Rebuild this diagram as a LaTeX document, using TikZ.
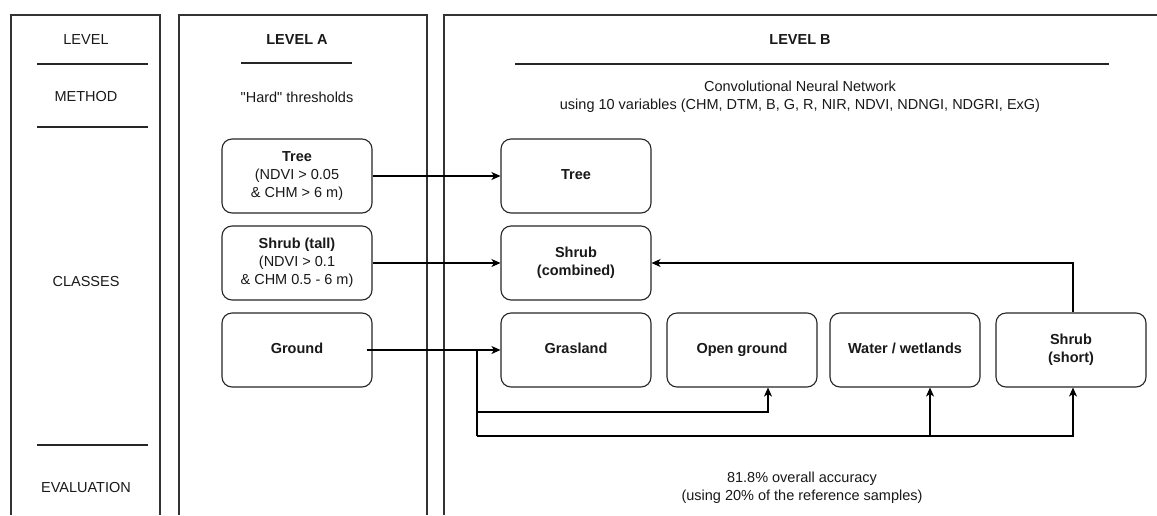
\documentclass[tikz,border=0pt]{standalone}
\usepackage{fontspec}
\setmainfont{Liberation Sans}[Ligatures=TeXOff]
\usetikzlibrary{arrows.meta,calc}
\begin{document}
\begin{tikzpicture}[x=1pt,y=-1pt,
  every node/.style={font=\fontsize{14.5}{18}\selectfont, text=black!90},
  panel/.style={draw=black!80, line width=1.2pt},
  sep/.style={draw=black!85, line width=1.1pt},
  box/.style={draw=black!85, line width=1.1pt, rounded corners=10pt, minimum width=150pt, minimum height=74pt, align=center, inner sep=2pt},
  arr/.style={draw=black, line width=1.1pt, -{Stealth[length=9pt,width=8pt,inset=2.5pt]}},
  ln/.style={draw=black, line width=1.1pt},
  lbl/.style={align=center}
]
\useasboundingbox[fill=white] (0,0) rectangle (1157,515);

% panels
\draw[panel] (11,515) -- (11,15) -- (160,15) -- (160,515);
\draw[panel] (179,515) -- (179,15) -- (427,15) -- (427,515);
\draw[panel] (444,515) -- (444,15) -- (1157,15);

% left column
\node[lbl] (lv) at (86,40) {LEVEL};
\node[lbl] (me) at (86,97) {METHOD};
\node[lbl] (cl) at (86,282) {CLASSES};
\node[lbl] (ev) at (86,487) {EVALUATION};
\draw[sep] (37,64) -- (148,64);
\draw[sep] (37,127) -- (148,127);
\draw[sep] (37,445) -- (148,445);

% level A
\node[lbl] (la) at (297,40) {\bfseries LEVEL A};
\draw[sep] (241,63) -- (352,63);
\node[lbl] (ht) at (297,97) {"Hard" thresholds};

\node[box] (treeA) at (297,176) {\textbf{Tree}\\(NDVI > 0.05\\\& CHM > 6 m)};
\node[box] (shrubA) at (297,263) {\textbf{Shrub (tall)}\\(NDVI > 0.1\\\& CHM 0.5 - 6 m)};
\node[box] (groundA) at (297,350) {\strut\textbf{Ground}};

% level B
\node[lbl] (lb) at (800,40) {\bfseries LEVEL B};
\draw[sep] (515,64) -- (1109,64);
\node[lbl] (cnn) at (800,97) {Convolutional Neural Network\\using 10 variables (CHM, DTM, B, G, R, NIR, NDVI, NDNGI, NDGRI, ExG)};

\node[box] (treeB) at (576,176) {\strut\textbf{Tree}};
\node[box] (shrubC) at (576,263) {\textbf{Shrub}\\\textbf{(combined)}};
\node[box] (gras) at (576,350) {\strut\textbf{Grasland}};
\node[box] (open) at (742,350) {\strut\textbf{Open ground}};
\node[box] (water) at (905,350) {\strut\textbf{Water / wetlands}};
\node[box] (shrubS) at (1071,350) {\textbf{Shrub}\\\textbf{(short)}};

\node[lbl] (acc) at (802,488) {81.8\% overall accuracy\\(using 20\% of the reference samples)};

% connectors
\draw[arr] (treeA.east) -- (treeB.west);
\draw[arr] (shrubA.east) -- (shrubC.west);
\draw[arr] ($(groundA.east)+(-6,0)$) -- (gras.west);
\coordinate (j1) at (477,350);
\coordinate (c1) at (477,412);
\coordinate (c2) at (477,436);
\draw[ln] (j1) -- (c2);
\draw[arr] (c1) -| ([xshift=26pt]open.south);
\draw[arr] (c2) -| ([xshift=2pt]shrubS.south);
\draw[arr] ([xshift=25pt]water.south |- c2) -- ([xshift=25pt]water.south);
\draw[arr] ([xshift=2pt]shrubS.north) |- (shrubC.east);
\end{tikzpicture}
\end{document}
